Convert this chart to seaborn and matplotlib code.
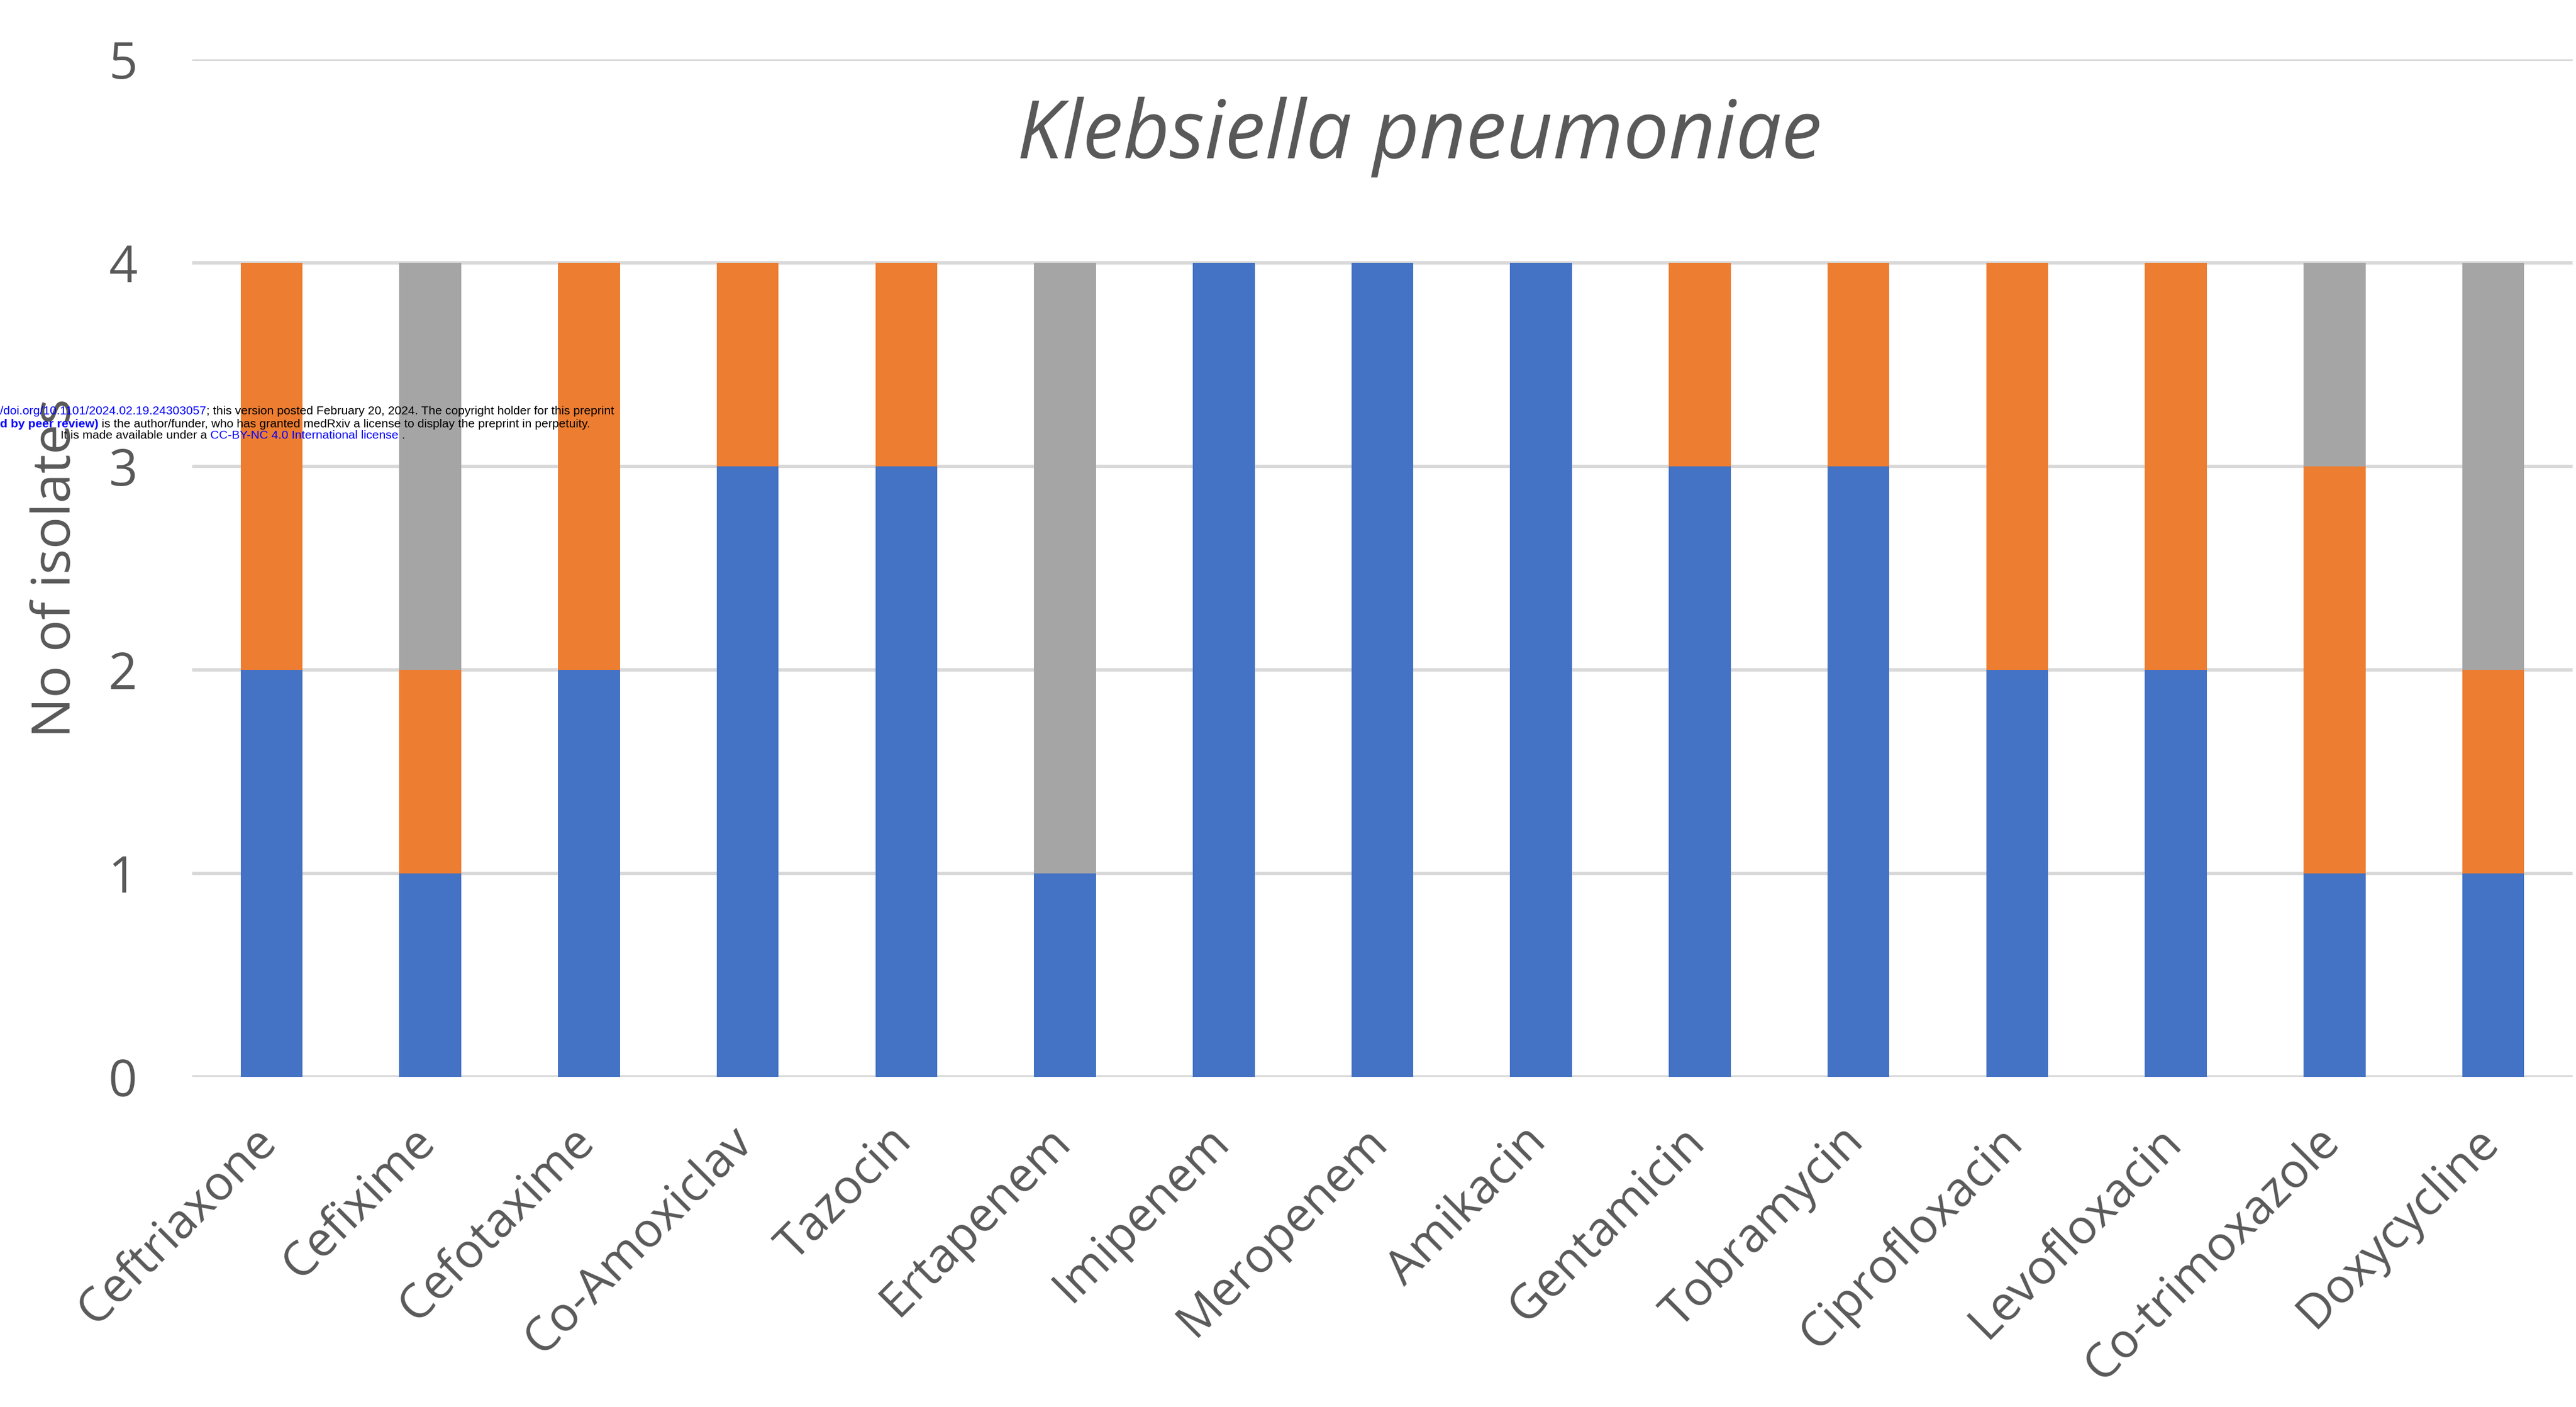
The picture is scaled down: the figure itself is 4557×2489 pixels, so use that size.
import matplotlib
matplotlib.use("Agg")
import matplotlib.pyplot as plt
import matplotlib.transforms as mtransforms
import seaborn as sns
import numpy as np
import pandas as pd

# ---- data ----
antibiotics = ["Ceftriaxone", "Cefixime", "Cefotaxime", "Co-Amoxiclav", "Tazocin",
               "Ertapenem", "Imipenem", "Meropenem", "Amikacin", "Gentamicin",
               "Tobramycin", "Ciprofloxacin", "Levofloxacin", "Co-trimoxazole", "Doxycycline"]
series1 = [2, 1, 2, 3, 3, 1, 4, 4, 4, 3, 3, 2, 2, 1, 1]   # blue
series2 = [2, 1, 2, 1, 1, 0, 0, 0, 0, 1, 1, 2, 2, 2, 1]   # orange
series3 = [0, 2, 0, 0, 0, 3, 0, 0, 0, 0, 0, 0, 0, 1, 2]   # gray
yticks = [0, 1, 2, 3, 4, 5]
title = "Klebsiella pneumoniae"
ylabel = "No of isolates"

colors = ["#4472C4", "#ED7D31", "#A5A5A5"]
text_color = "#595959"
grid_color = "#D9D9D9"

sns.set_theme(style="white")
plt.rcParams["font.family"] = ["Open Sans", "DejaVu Sans"]

W, H = 4557, 2489
fig = plt.figure(figsize=(W / 100, H / 100), dpi=100)
ax = fig.add_axes([340 / W, 1 - 1905 / H, (4551 - 340) / W, (1905 - 105) / H])

df = pd.DataFrame({"antibiotic": antibiotics,
                   "s1": series1, "s2": series2, "s3": series3})
b1 = np.array(series1, dtype=float)
b2 = b1 + np.array(series2, dtype=float)

for col, bottom, c in [("s1", None, colors[0]), ("s2", b1, colors[1]), ("s3", b2, colors[2])]:
    kw = {} if bottom is None else {"bottom": bottom}
    sns.barplot(data=df, x="antibiotic", y=col, color=c, width=0.39,
                saturation=1, ax=ax, linewidth=0, zorder=3, **kw)

ax.set_xlim(-0.5, len(antibiotics) - 0.5)
ax.set_ylim(0, 5)
ax.set_yticks(yticks)
ax.set_yticklabels([str(t) for t in yticks])
ax.yaxis.grid(True, color=grid_color, linewidth=4.3, zorder=0)
ax.set_axisbelow(True)
for s in ax.spines.values():
    s.set_visible(False)
ax.tick_params(axis="both", length=0, colors=text_color)
ax.tick_params(axis="y", labelsize=64, pad=70)
ax.tick_params(axis="x", labelsize=61, pad=52)
ax.set_xlabel("")
ax.set_ylabel("")
shift = mtransforms.ScaledTranslation(-24 / 72, 0, fig.dpi_scale_trans)
for lab in ax.get_xticklabels():
    lab.set_rotation(45)
    lab.set_ha("right")
    lab.set_va("top")
    lab.set_rotation_mode("anchor")
    lab.set_transform(lab.get_transform() + shift)

fig.text(100 / W, 1 - 1005 / H, ylabel, rotation=90, ha="center", va="center",
         fontsize=68, color=text_color)
fig.text(2511 / W, 1 - 243 / H, title, ha="center", va="center",
         fontsize=103, style="italic", color=text_color)

# medRxiv watermark lines
fig.canvas.draw()
renderer = fig.canvas.get_renderer()
wm_size = 15.3
lines = [
    (0, 728, [("/doi.org/10.1101/2024.02.19.24303057", "#0000FF", "normal"),
              ("; this version posted February 20, 2024. The copyright holder for this preprint", "black", "normal")]),
    (0, 750, [("d by peer review)", "#0000FF", "bold"),
              (" is the author/funder, who has granted medRxiv a license to display the preprint in perpetuity.", "black", "normal")]),
    (107, 771, [("It is made available under a ", "black", "normal"),
                ("CC-BY-NC 4.0 International license", "#0000FF", "normal"),
                (" .", "black", "normal")]),
]
for x0, y0, segs in lines:
    x = x0
    for s, c, w in segs:
        t = fig.text(x / W, 1 - y0 / H, s, color=c, fontweight=w, fontsize=wm_size,
                     family=["Liberation Sans", "DejaVu Sans"], ha="left", va="center")
        bb = t.get_window_extent(renderer=renderer)
        x += bb.width

fig.savefig("out.png", dpi=100, facecolor="white")
